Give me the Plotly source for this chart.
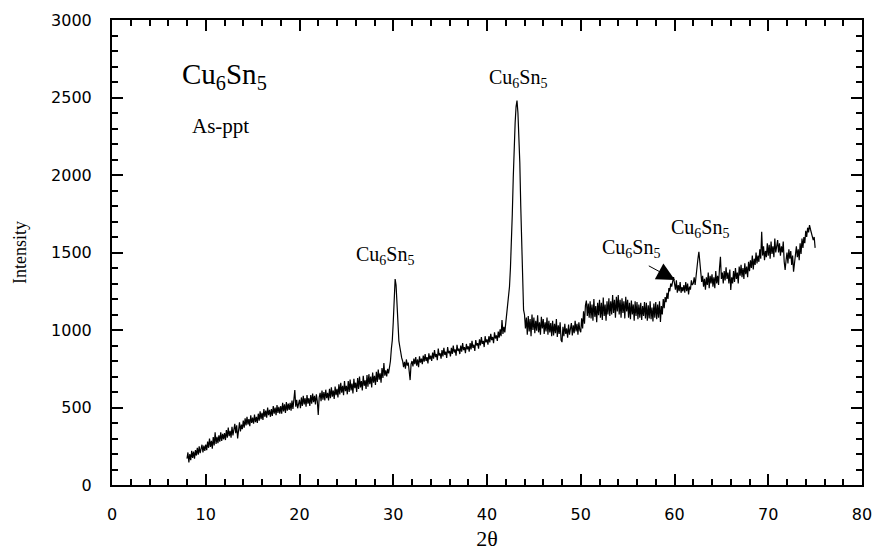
import numpy as np
import plotly.graph_objects as go

two_theta = np.round(np.arange(8.0, 75.0001, 0.1), 1)
intensity = [
    170, 210, 145, 200, 160, 220, 175, 215, 170, 225,      # 8
    190, 240, 195, 250, 205, 235, 260, 210, 255, 220,      # 9
    260, 225, 280, 240, 300, 245, 285, 235, 310, 255,      # 10
    340, 265, 310, 270, 320, 280, 340, 285, 330, 295,      # 11
    335, 290, 355, 305, 370, 315, 350, 305, 375, 320,      # 12
    360, 395, 335, 385, 300, 370, 405, 345, 390, 360,      # 13
    415, 370, 430, 385, 440, 390, 425, 380, 450, 400,      # 14
    435, 395, 455, 405, 440, 400, 460, 415, 475, 425,      # 15
    465, 420, 490, 440, 480, 435, 500, 450, 485, 440,      # 16
    490, 445, 510, 460, 500, 450, 515, 465, 505, 460,      # 17
    510, 460, 530, 475, 520, 465, 535, 480, 525, 485,      # 18
    530, 480, 545, 490, 540, 613, 505, 550, 495, 540,      # 19
    550, 495, 565, 510, 575, 520, 560, 505, 580, 525,      # 20
    560, 510, 580, 525, 590, 535, 575, 520, 585, 540,      # 21
    452, 565, 595, 540, 610, 550, 600, 545, 615, 560,      # 22
    595, 545, 620, 560, 630, 570, 610, 555, 635, 580,      # 23
    620, 565, 650, 585, 660, 595, 640, 580, 670, 605,      # 24
    640, 585, 670, 600, 680, 610, 655, 590, 685, 625,      # 25
    660, 600, 690, 620, 700, 630, 670, 610, 705, 640,      # 26
    675, 620, 710, 635, 715, 650, 700, 630, 725, 660,      # 27
    705, 645, 730, 665, 745, 680, 720, 660, 755, 690,      # 28
    787, 705, 740, 700, 750, 720, 760, 800, 880, 935,      # 29
    1050, 1200, 1329, 1290, 1150, 1000, 930, 892, 850, 820,  # 30
    800, 760, 795, 750, 810, 770, 790, 740, 677, 780,      # 31
    800, 765, 815, 780, 825, 770, 810, 760, 830, 790,      # 32
    815, 780, 835, 795, 845, 800, 825, 785, 850, 810,      # 33
    835, 800, 855, 815, 870, 825, 845, 805, 880, 835,      # 34
    850, 815, 870, 830, 885, 840, 860, 820, 890, 850,      # 35
    865, 830, 885, 845, 900, 855, 875, 835, 905, 865,      # 36
    880, 845, 900, 860, 915, 870, 890, 850, 910, 875,      # 37
    895, 860, 915, 875, 930, 885, 905, 865, 935, 900,      # 38
    915, 880, 940, 900, 955, 910, 930, 890, 960, 920,      # 39
    940, 905, 960, 920, 975, 935, 955, 915, 985, 945,      # 40
    965, 930, 990, 950, 1005, 960, 1064, 975, 1020, 985,   # 41
    1050, 1110, 1130, 1200, 1280, 1400, 1550, 1750, 1980, 2200,  # 42
    2335, 2440, 2480, 2400, 2250, 2080, 1800, 1500, 1258, 1130,  # 43
    1100, 1010, 1080, 970, 1090, 990, 1070, 960, 1100, 1000,     # 44
    1080, 980, 1060, 995, 1095, 985, 1050, 970, 1085, 1010,      # 45
    1070, 975, 1050, 990, 1080, 970, 1060, 985, 1045, 960,       # 46
    1060, 965, 1040, 980, 1070, 955, 1030, 975, 1050, 935,       # 47
    922, 1020, 960, 1040, 975, 1010, 950, 1035, 970, 1000,       # 48
    1045, 965, 1030, 980, 1060, 990, 1040, 970, 1050, 1000,      # 49
    985, 1075, 1010, 1120, 1040, 1160, 1190, 1090, 1170, 1080,   # 50
    1185, 1075, 1165, 1060, 1200, 1085, 1155, 1050, 1175, 1095,  # 51
    1195, 1080, 1175, 1065, 1210, 1090, 1165, 1060, 1185, 1100,  # 52
    1205, 1090, 1185, 1100, 1226, 1110, 1195, 1080, 1215, 1120,  # 53
    1225, 1100, 1195, 1080, 1205, 1110, 1185, 1075, 1215, 1120,  # 54
    1195, 1080, 1175, 1070, 1190, 1100, 1165, 1060, 1185, 1090,  # 55
    1180, 1070, 1165, 1080, 1175, 1065, 1155, 1090, 1180, 1075,  # 56
    1175, 1060, 1160, 1075, 1185, 1070, 1145, 1055, 1170, 1080,  # 57
    1180, 1070, 1165, 1080, 1185, 1052, 1155, 1100, 1200, 1140,  # 58
    1213, 1180, 1240, 1200, 1270, 1250, 1300, 1280, 1320, 1342,  # 59
    1300, 1260, 1320, 1240, 1290, 1250, 1310, 1240, 1277, 1250,  # 60
    1290, 1240, 1310, 1250, 1300, 1230, 1280, 1260, 1320, 1290,  # 61
    1300, 1340, 1290, 1360, 1400, 1460, 1505, 1420, 1360, 1310,  # 62
    1350, 1280, 1330, 1260, 1340, 1290, 1370, 1270, 1350, 1300,  # 63
    1360, 1280, 1340, 1270, 1380, 1300, 1350, 1290, 1400, 1473,  # 64
    1330, 1370, 1300, 1380, 1320, 1405, 1330, 1370, 1300, 1390,  # 65
    1258, 1340, 1300, 1380, 1310, 1400, 1330, 1370, 1300, 1410,  # 66
    1350, 1420, 1340, 1400, 1330, 1430, 1360, 1410, 1340, 1440,  # 67
    1380, 1450, 1400, 1480, 1390, 1460, 1420, 1500, 1430, 1480,  # 68
    1440, 1520, 1460, 1634, 1480, 1540, 1450, 1510, 1470, 1560,  # 69
    1480, 1550, 1460, 1570, 1490, 1540, 1470, 1590, 1500, 1560,  # 70
    1580, 1500, 1560, 1480, 1540, 1500, 1570, 1440, 1387, 1450,  # 71
    1500, 1430, 1520, 1460, 1510, 1420, 1480, 1376, 1450, 1500,  # 72
    1540, 1470, 1520, 1450, 1560, 1490, 1590, 1530, 1600, 1560,  # 73
    1640, 1600, 1660, 1630, 1677, 1650, 1630, 1610, 1580, 1600,  # 74
    1530,                                                        # 75
]

# peak labels
phase_label = "Cu<sub>6</sub>Sn<sub>5</sub>"
label_x = [29.1, 43.3, 55.4, 62.7]
label_y = [1478, 2625, 1524, 1654]
arrow_tail = (57.1, 1419)
arrow_head = (60.05, 1323)

x_ticks = [0, 10, 20, 30, 40, 50, 60, 70, 80]
y_ticks = [0, 500, 1000, 1500, 2000, 2500, 3000]

SERIF = "Liberation Serif, Times New Roman, serif"
SANS = "DejaVu Sans, Arial, sans-serif"

n = min(len(two_theta), len(intensity))

fig = go.Figure()
fig.add_trace(go.Scatter(
    x=two_theta[:n], y=intensity[:n], mode="lines",
    line=dict(color="black", width=1.2),
    showlegend=False, hoverinfo="skip",
))

axis_common = dict(
    showline=True, linecolor="black", linewidth=2, mirror="allticks",
    ticks="inside", ticklen=11, tickwidth=2, tickcolor="black",
    showgrid=False, zeroline=False, automargin=False,
    tickfont=dict(family=SANS, size=16, color="black"),
)

fig.update_xaxes(
    range=[0, 80], tickvals=x_ticks,
    minor=dict(dtick=2, ticks="inside", ticklen=6, tickwidth=2, tickcolor="black"),
    title=dict(text="2θ", font=dict(family=SERIF, size=22, color="black"), standoff=7),
    ticklabelstandoff=14,
    **axis_common,
)
fig.update_yaxes(
    range=[0, 3000], tickvals=y_ticks,
    minor=dict(dtick=100, ticks="inside", ticklen=6, tickwidth=2, tickcolor="black"),
    title=dict(text="Intensity", font=dict(family=SERIF, size=18, color="black"), standoff=20),
    ticklabelstandoff=15,
    **axis_common,
)

annotations = [
    dict(x=12.0, y=2640, text=phase_label, showarrow=False,
         font=dict(family=SERIF, size=29, color="black"), xanchor="center", yanchor="middle"),
    dict(x=11.6, y=2314, text="As-ppt", showarrow=False,
         font=dict(family=SERIF, size=21, color="black"), xanchor="center", yanchor="middle"),
]
for lx, ly in zip(label_x, label_y):
    annotations.append(dict(x=lx, y=ly, text=phase_label, showarrow=False,
                            font=dict(family=SERIF, size=20, color="black"),
                            xanchor="center", yanchor="middle"))
annotations.append(dict(
    x=arrow_head[0], y=arrow_head[1], ax=arrow_tail[0], ay=arrow_tail[1],
    xref="x", yref="y", axref="x", ayref="y", text="",
    showarrow=True, arrowhead=2, arrowsize=3.6, arrowwidth=1, arrowcolor="black",
))

fig.update_layout(
    width=874, height=551,
    margin=dict(l=112, r=12, t=20, b=66),
    paper_bgcolor="white", plot_bgcolor="white",
    annotations=annotations,
)

# remove the page's default body margin so the figure fills the window exactly
fig.write_html(
    "out.html",
    config={"displayModeBar": False},
    post_script="document.body.style.margin='0';document.body.style.overflow='hidden';",
)
